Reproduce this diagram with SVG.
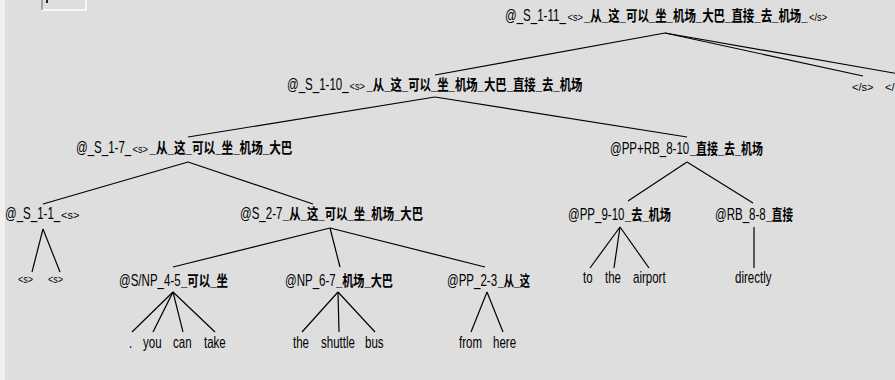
<svg xmlns="http://www.w3.org/2000/svg" width="895" height="380" viewBox="0 0 895 380">
<style>
.t{font-family:"Liberation Sans",sans-serif;font-size:16px;fill:#000}
.c{font-family:"Liberation Sans","Noto Sans CJK SC",sans-serif;font-weight:bold;font-size:15px;fill:#000}
.sm{font-family:"Liberation Sans",sans-serif;font-size:11px;fill:#000}
#edges line{stroke:#000;stroke-width:1.2;fill:none}
</style>
<rect x="0" y="0" width="895" height="380" fill="#dedede"/>
<rect x="0" y="0" width="5" height="380" fill="#f0f0f0"/>
<g id="corner">
<rect x="42" y="-1" width="44" height="11" fill="#dedede" stroke="#ffffff" stroke-width="1.5"/>
<line x1="42" y1="0" x2="42" y2="10" stroke="#8a8a8a" stroke-width="1.5"/>
<rect x="46" y="0" width="2" height="3" fill="#222"/>
</g>
<g id="edges">
<line x1="665" y1="33" x2="435" y2="75"/>
<line x1="665" y1="33" x2="863" y2="76"/>
<line x1="665" y1="33" x2="905" y2="75"/>
<line x1="435" y1="97" x2="188" y2="137"/>
<line x1="435" y1="97" x2="687" y2="137"/>
<line x1="188" y1="162" x2="43" y2="204"/>
<line x1="188" y1="162" x2="313" y2="204"/>
<line x1="43" y1="229" x2="32" y2="272"/>
<line x1="43" y1="229" x2="60" y2="272"/>
<line x1="330" y1="228" x2="173" y2="267"/>
<line x1="330" y1="228" x2="340" y2="267"/>
<line x1="330" y1="228" x2="485" y2="267"/>
<line x1="173" y1="292" x2="132" y2="332"/>
<line x1="173" y1="292" x2="153" y2="332"/>
<line x1="173" y1="292" x2="183" y2="332"/>
<line x1="173" y1="292" x2="215" y2="332"/>
<line x1="338" y1="292" x2="302" y2="332"/>
<line x1="338" y1="292" x2="339" y2="332"/>
<line x1="338" y1="292" x2="375" y2="332"/>
<line x1="487" y1="292" x2="471" y2="332"/>
<line x1="487" y1="292" x2="503" y2="332"/>
<line x1="687" y1="162" x2="628" y2="201"/>
<line x1="687" y1="162" x2="753" y2="203"/>
<line x1="620" y1="227" x2="590" y2="268"/>
<line x1="620" y1="227" x2="614" y2="268"/>
<line x1="620" y1="227" x2="649" y2="268"/>
<line x1="754" y1="227" x2="754" y2="268"/>
</g>
<g id="n-S-1-11">
<text class="t" transform="translate(505,21) scale(0.72,1)">@_S_1-11_</text>
<text class="sm" transform="translate(567.5,21) scale(0.85,1)">&lt;s&gt;</text>
<text class="c" transform="translate(584,21) scale(0.763,1)">_从_这_可以_坐_机场_大巴_直接_去_机场_</text>
<text class="sm" transform="translate(809,21) scale(0.85,1)">&lt;/s&gt;</text>
</g>
<g id="n-S-1-10">
<text class="t" transform="translate(287,90) scale(0.72,1)">@_S_1-10_</text>
<text class="sm" transform="translate(349.5,90) scale(0.85,1)">&lt;s&gt;</text>
<text class="c" transform="translate(366.5,90) scale(0.758,1)">_从_这_可以_坐_机场_大巴_直接_去_机场</text>
</g>
<g id="n-S-1-7">
<text class="t" transform="translate(76,153) scale(0.72,1)">@_S_1-7_</text>
<text class="sm" transform="translate(132.5,153) scale(0.85,1)">&lt;s&gt;</text>
<text class="c" transform="translate(149.5,153) scale(0.773,1)">_从_这_可以_坐_机场_大巴</text>
</g>
<g id="n-PPRB-8-10">
<text class="t" transform="translate(610,154) scale(0.72,1)">@PP+RB_8-10</text>
<text class="c" transform="translate(690,154) scale(0.73,1)">_直接_去_机场</text>
</g>
<g id="n-S-1-1">
<text class="t" transform="translate(5,219) scale(0.72,1)">@_S_1-1_</text>
<text class="sm" transform="translate(61,219)">&lt;s&gt;</text>
</g>
<g id="n-S-2-7">
<text class="t" transform="translate(240,219) scale(0.72,1)">@S_2-7</text>
<text class="c" transform="translate(283,219) scale(0.757,1)">_从_这_可以_坐_机场_大巴</text>
</g>
<g id="n-PP-9-10">
<text class="t" transform="translate(568,220) scale(0.72,1)">@PP_9-10</text>
<text class="c" transform="translate(625,220) scale(0.746,1)">_去_机场</text>
</g>
<g id="n-RB-8-8">
<text class="t" transform="translate(715,220) scale(0.72,1)">@RB_8-8</text>
<text class="c" transform="translate(766,220) scale(0.704,1)">_直接</text>
</g>
<g id="n-SNP-4-5">
<text class="t" transform="translate(119,286) scale(0.72,1)">@S/NP_4-5</text>
<text class="c" transform="translate(181,286) scale(0.762,1)">_可以_坐</text>
</g>
<g id="n-NP-6-7">
<text class="t" transform="translate(285,286) scale(0.72,1)">@NP_6-7</text>
<text class="c" transform="translate(336,286) scale(0.743,1)">_机场_大巴</text>
</g>
<g id="n-PP-2-3">
<text class="t" transform="translate(447,286) scale(0.72,1)">@PP_2-3</text>
<text class="c" transform="translate(498,286) scale(0.686,1)">_从_这</text>
</g>
<g id="leaf-s1"><text class="sm" transform="translate(18,283) scale(0.82,1)">&lt;s&gt;</text></g>
<g id="leaf-s2"><text class="sm" transform="translate(48,283) scale(0.82,1)">&lt;s&gt;</text></g>
<g id="leaf-end1"><text class="sm" transform="translate(852,91)">&lt;/s&gt;</text></g>
<g id="leaf-end2"><text class="sm" transform="translate(885,91)">&lt;/</text></g>
<g id="leaf-to"><text class="t" transform="translate(583,283) scale(0.72,1)">to</text></g>
<g id="leaf-the2"><text class="t" transform="translate(605,283) scale(0.72,1)">the</text></g>
<g id="leaf-airport"><text class="t" transform="translate(633,283) scale(0.72,1)">airport</text></g>
<g id="leaf-directly"><text class="t" transform="translate(735,283) scale(0.72,1)">directly</text></g>
<g id="leaf-dot"><text class="t" transform="translate(129,348) scale(0.72,1)">.</text></g>
<g id="leaf-you"><text class="t" transform="translate(143,348) scale(0.72,1)">you</text></g>
<g id="leaf-can"><text class="t" transform="translate(173,348) scale(0.72,1)">can</text></g>
<g id="leaf-take"><text class="t" transform="translate(204,348) scale(0.72,1)">take</text></g>
<g id="leaf-the1"><text class="t" transform="translate(293,348) scale(0.72,1)">the</text></g>
<g id="leaf-shuttle"><text class="t" transform="translate(321,348) scale(0.72,1)">shuttle</text></g>
<g id="leaf-bus"><text class="t" transform="translate(365,348) scale(0.72,1)">bus</text></g>
<g id="leaf-from"><text class="t" transform="translate(459,348) scale(0.72,1)">from</text></g>
<g id="leaf-here"><text class="t" transform="translate(493,348) scale(0.72,1)">here</text></g>
</svg>
